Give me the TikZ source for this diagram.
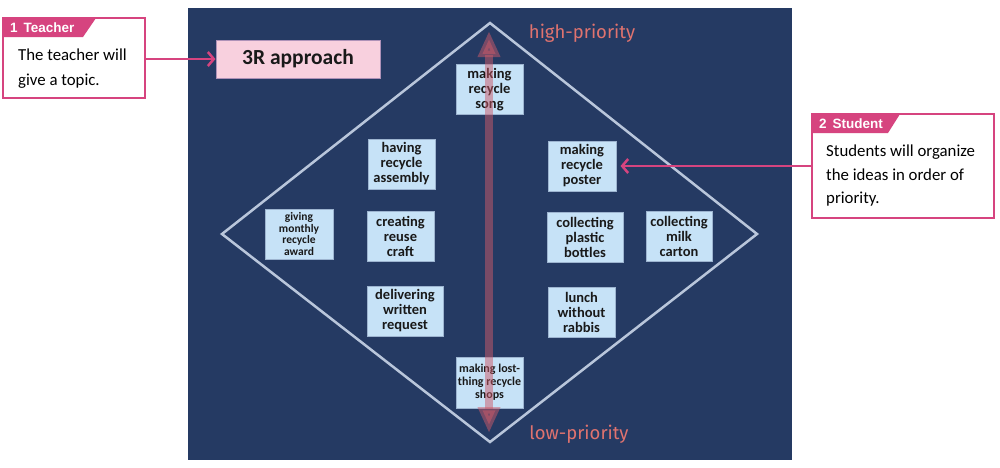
\documentclass[tikz,border=0pt]{standalone}
\usepackage{fontspec}
\setmainfont{Carlito}
\newfontfamily\tabfont{Liberation Sans}
\newfontfamily\labfont{Fira Sans}
\usetikzlibrary{arrows.meta}
\definecolor{panel}{HTML}{253A63}
\definecolor{boxfill}{HTML}{C6E2F7}
\definecolor{boxline}{HTML}{9DB4D0}
\definecolor{pinkline}{HTML}{D6447F}
\definecolor{pinkfill}{HTML}{F8D0DE}
\definecolor{salmon}{HTML}{E0736F}
\definecolor{diam}{HTML}{B9C6DB}
\definecolor{arr}{RGB}{205,90,105}
\tikzset{
  idea/.style={draw=boxline, fill=boxfill, line width=1pt, inner sep=0pt, align=center,
    font=\fontsize{14.5}{15}\selectfont\bfseries, text=black!90},
  callout/.style={draw=pinkline, line width=2.5pt, fill=white},
  pinkarrow/.style={draw=pinkline, line width=2.5pt, -{Straight Barb[length=6pt,width=14pt]}},
  bodytext/.style={anchor=north west, align=left, inner sep=0pt, text=black},
}
\begin{document}
\begin{tikzpicture}[x=1pt,y=-1pt]
\useasboundingbox (0,0) rectangle (1000,467);
% panel
\fill[panel] (188,8) rectangle (792,460);
% diamond
\draw[diam, line width=2.5pt, line join=miter] (490,23) -- (757,234) -- (490,442) -- (222,234) -- cycle;
% 3R approach
\node[draw=boxline!70!pinkline, fill=pinkfill, line width=1pt, minimum width=164pt, minimum height=38pt,
  font=\fontsize{21.5}{22}\selectfont\bfseries, text=black!90] (threeR) at (298,59) {3R approach};
% idea boxes
\node[idea, minimum width=67pt, minimum height=50pt] (song) at (489.5,89.5) {making\\recycle\\song};
\node[idea, minimum width=67pt, minimum height=50pt] (assembly) at (401.5,164) {having\\recycle\\assembly};
\node[idea, minimum width=68pt, minimum height=50pt, font=\fontsize{11.5}{11.5}\selectfont\bfseries] (award) at (299,234) {giving\\monthly\\recycle\\award};
\node[idea, minimum width=67pt, minimum height=50pt] (craft) at (400.5,236) {creating\\reuse\\craft};
\node[idea, minimum width=76pt, minimum height=50pt] (request) at (405,311) {delivering\\written\\request};
\node[idea, minimum width=68pt, minimum height=50pt] (poster) at (582,166) {making\\recycle\\poster};
\node[idea, minimum width=76pt, minimum height=50pt] (bottles) at (585,237) {collecting\\plastic\\bottles};
\node[idea, minimum width=66pt, minimum height=50pt] (carton) at (679,236) {collecting\\milk\\carton};
\node[idea, minimum width=67pt, minimum height=50pt] (lunch) at (581.5,312) {lunch\\without\\rabbis};
\node[idea, minimum width=67pt, minimum height=51pt, font=\fontsize{12}{13}\selectfont\bfseries] (shops) at (489.5,382.5) {making lost-\\thing recycle\\shops};
% priority arrow
\coordinate (ptop) at (489,31);
\coordinate (pbot) at (489,433);
\draw[arr, opacity=0.5, line width=8pt, {Triangle[width=21pt,length=26pt]}-{Triangle[width=21pt,length=26pt]}] (ptop) -- (pbot);
% priority labels
\node[text=salmon, font=\labfont\fontsize{18.5}{20}\selectfont] (high) at (582,33) {high-priority};
\node[text=salmon, font=\labfont\fontsize{18.5}{20}\selectfont] (low) at (579,434) {low-priority};
% teacher callout
\draw[callout] (3,18) rectangle (145,98);
\fill[pinkline] (3,18) -- (96,18) -- (83,37) -- (3,37) -- cycle;
\node[anchor=west, text=white, font=\tabfont\fontsize{13.5}{14}\selectfont\bfseries, inner sep=0pt] (ttab) at (10,28) {1\hspace{6pt}Teacher};
\node[bodytext, font=\fontsize{16.8}{25}\selectfont] (tbody) at (18,49) {The teacher will\\give a topic.};
\coordinate (tout) at (145,59);
\draw[pinkarrow] (tout) -- (threeR.west);
% student callout
\draw[callout] (812,114) rectangle (994,218);
\fill[pinkline] (812,114) -- (900,114) -- (888,133) -- (812,133) -- cycle;
\node[anchor=west, text=white, font=\tabfont\fontsize{13.5}{14}\selectfont\bfseries, inner sep=0pt] (stab) at (819,124) {2\hspace{6pt}Student};
\node[bodytext, font=\fontsize{16.8}{23.5}\selectfont] (sbody) at (826,145) {Students will organize\\the ideas in order of\\priority.};
\coordinate (sout) at (812,166);
\draw[pinkarrow] (sout) -- ([xshift=4pt]poster.east);
\end{tikzpicture}
\end{document}
